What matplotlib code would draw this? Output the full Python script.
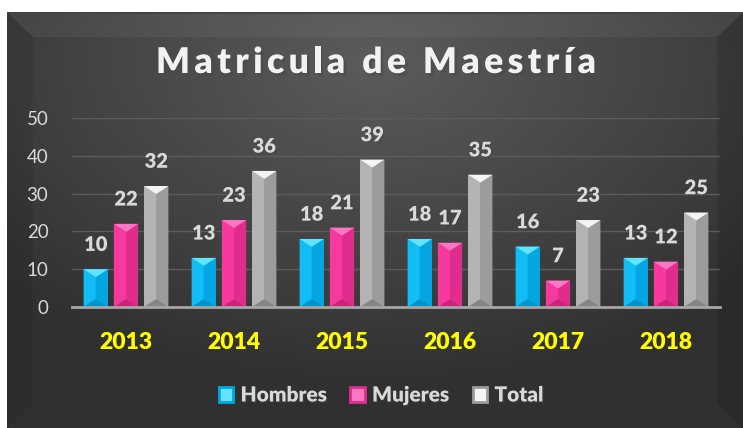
import matplotlib.pyplot as plt
from matplotlib.patches import Polygon, Patch
import matplotlib.patheffects as pe
import numpy as np

years = ['2013', '2014', '2015', '2016', '2017', '2018']
hombres = [10, 13, 18, 18, 16, 13]
mujeres = [22, 23, 21, 17, 7, 12]
total = [32, 36, 39, 35, 23, 25]
series_names = ['Hombres', 'Mujeres', 'Total']
title = 'Matricula de Maestría'

# bevel shades: base, top, left, right, bottom
shades = {
    'Hombres': ['#00b0f0', '#62e4ff', '#12bcf4', '#04a6e2', '#0592c8'],
    'Mujeres': ['#ff3399', '#ff77c4', '#f5399f', '#e02c8c', '#c8247c'],
    'Total':   ['#a6a6a6', '#f4f4f4', '#b4b4b4', '#9c9c9c', '#858585'],
}

plt.rcParams['font.family'] = ['Lato', 'DejaVu Sans']
BOLD = 800
shadow = [pe.withSimplePatchShadow(offset=(1, -1), alpha=0.5)]

fig = plt.figure(figsize=(7.43, 4.28), dpi=100, facecolor='white')

# background panel with gradient
px0, ptop = 7 / 743, 1 - 12 / 428
bg = fig.add_axes([px0, 0, 1 - px0, ptop], zorder=-10)
ny, nx = 200, 360
yy, xx = np.mgrid[0:ny, 0:nx]
r = np.sqrt(((xx / nx - 0.5) * 1.1) ** 2 + ((yy / ny - 0.12) * 1.0) ** 2)
val = np.clip(0.36 - 0.22 * r, 0.19, 0.36)
bg.imshow(np.dstack([val] * 3), aspect='auto', extent=[0, 1, 0, 1], origin='upper')
bg.add_patch(Polygon([[0, 1], [1, 1], [0.965, 0.94], [0.035, 0.94]],
                     closed=True, color='white', alpha=0.05, lw=0))
bg.add_patch(Polygon([[0, 1], [0.035, 0.94], [0.035, 0.06], [0, 0]],
                     closed=True, color='black', alpha=0.08, lw=0))
bg.add_patch(Polygon([[1, 1], [0.965, 0.94], [0.965, 0.06], [1, 0]],
                     closed=True, color='black', alpha=0.12, lw=0))
bg.plot([0, 1], [0.998, 0.998], color='#444444', lw=1.5)
bg.set_xlim(0, 1)
bg.set_ylim(0, 1)
bg.axis('off')

ax = fig.add_axes([72 / 743, 1 - 307 / 428, (720 - 72) / 743, (307 - 118) / 428])
ax.set_facecolor('none')

x = np.arange(len(years))
bw = 0.225
step = 0.28
data = [hombres, mujeres, total]
for i, (name, vals) in enumerate(zip(series_names, data)):
    bars = ax.bar(x + (i - 1) * step, vals, bw, color=shades[name][0], zorder=3)
    dv = 2.1
    for p in bars:
        x0, w, h = p.get_x(), p.get_width(), p.get_height()
        x1, xm = x0 + w, x0 + w / 2
        d = min(dv, h / 2)
        base, top, left, right, bot = shades[name]
        ax.add_patch(Polygon([[x0, h], [xm, h - d], [xm, d], [x0, 0]], closed=True,
                             color=left, lw=0, zorder=4))
        ax.add_patch(Polygon([[x1, h], [xm, h - d], [xm, d], [x1, 0]], closed=True,
                             color=right, lw=0, zorder=4))
        ax.add_patch(Polygon([[x0, 0], [x1, 0], [xm, d]], closed=True,
                             color=bot, lw=0, zorder=4))
        ax.add_patch(Polygon([[x0, h], [x1, h], [xm, h - d]], closed=True,
                             color=top, lw=0, zorder=4))
    ax.bar_label(bars, padding=11, color='#d9d9d9', fontsize=14.5, fontweight=BOLD,
                 path_effects=shadow)

ax.set_xlim(-0.5, len(years) - 0.5)
ax.set_ylim(0, 50)
ax.set_yticks(range(0, 51, 10))
ax.set_xticks(x)
ax.set_xticklabels(years, color='#ffff00', fontsize=16.5, fontweight=BOLD)
ax.tick_params(axis='x', length=0, pad=18)
ax.tick_params(axis='y', length=0, pad=17, labelcolor='#d9d9d9', labelsize=13.5)
ax.grid(axis='y', color='#5c5c5c', lw=1, zorder=0)
for s in ['top', 'right', 'left']:
    ax.spines[s].set_visible(False)
ax.spines['bottom'].set_color('#a6a6a6')
ax.spines['bottom'].set_linewidth(2)
ax.spines['bottom'].set_zorder(5)

# title with letter spacing: place characters one by one
renderer = fig.canvas.get_renderer()
tkw = dict(fontsize=25.5, fontweight=BOLD, color='#f2f2f2', va='baseline',
           path_effects=[pe.withSimplePatchShadow(offset=(2, -2), alpha=0.6)])
W = fig.bbox.width


def text_width(s):
    t = fig.text(0, 0, s + '|', **tkw)
    wd = t.get_window_extent(renderer).width
    t.remove()
    return wd


bar_w = text_width('')
prefix = [text_width(title[:k]) - bar_w for k in range(len(title) + 1)]
x_left, x_right = 156, 596
spacing = ((x_right - x_left) - prefix[-1]) / (len(title) - 1)
base_y = 1 - 73 / 428
for k, ch in enumerate(title):
    if ch == ' ':
        continue
    fig.text((x_left + prefix[k] + k * spacing) / W, base_y, ch, ha='left', **tkw)

handles = [Patch(facecolor=shades[n][1], edgecolor=shades[n][3], lw=2) for n in series_names]
leg = fig.legend(handles, series_names, loc='center', bbox_to_anchor=(0.513, 1 - 395 / 428),
                 ncol=3, frameon=False, handlelength=0.7, handleheight=0.7,
                 handletextpad=0.35, columnspacing=1.1,
                 prop={'weight': BOLD, 'size': 15})
for t in leg.get_texts():
    t.set_color('#d9d9d9')
    t.set_path_effects(shadow)

fig.savefig('out.png', dpi=100, facecolor='white')
